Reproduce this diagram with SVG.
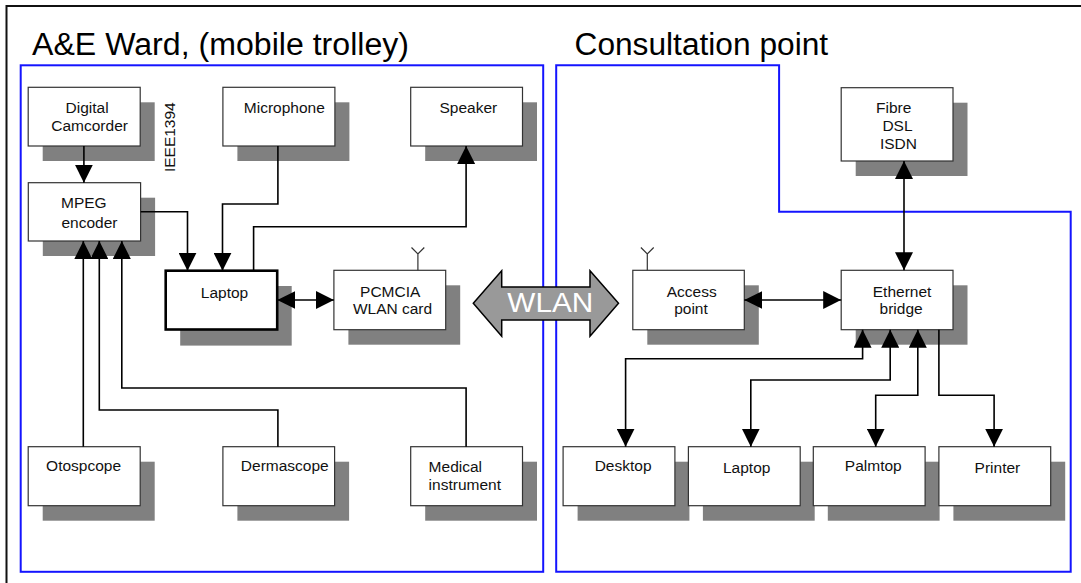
<svg xmlns="http://www.w3.org/2000/svg" width="1081" height="583" viewBox="0 0 1081 583">
<defs>
<marker id="ah" markerUnits="userSpaceOnUse" markerWidth="18" markerHeight="18" refX="18" refY="9" orient="auto-start-reverse" viewBox="0 0 18 18">
<path d="M0,0 L18,9 L0,18 z" fill="#000"/>
</marker>
<style>
.sh{fill:#808080;stroke:none}
.bx{fill:#fff;stroke:#333;stroke-width:1.2}
.bold{fill:#fff;stroke:#000;stroke-width:2.6}
.t{font-family:"Liberation Sans",Arial,sans-serif;font-size:15.5px;fill:#111;text-anchor:middle}
.tl{font-family:"Liberation Sans",Arial,sans-serif;font-size:15.5px;fill:#111}
.title{font-family:"Liberation Sans",Arial,sans-serif;font-size:31px;fill:#000}
.c{fill:none;stroke:#000;stroke-width:1.6}
.b{marker-start:url(#ah);marker-end:url(#ah)}
.e{marker-end:url(#ah)}
.zone{fill:none;stroke:#1414ff;stroke-width:2}
.ant{fill:none;stroke:#333;stroke-width:1.2}
</style>
</defs>
<rect width="1081" height="583" fill="#fff"/>
<rect x="6.5" y="6" width="1100" height="600" fill="none" stroke="#111" stroke-width="2"/>
<g id="zones">
<rect class="zone" x="20.7" y="65.3" width="522.5" height="506.5"/>
<polygon class="zone" points="556.2,65.3 779.1,65.3 779.1,211.7 1070.7,211.7 1070.7,571.8 556.2,571.8"/>
<text class="title" x="32" y="55" textLength="377" lengthAdjust="spacingAndGlyphs">A&amp;E Ward, (mobile trolley)</text>
<text class="title" x="574.5" y="55" textLength="253.6" lengthAdjust="spacingAndGlyphs">Consultation point</text>
</g>
<g id="camcorder"><rect class="sh" x="42.7" y="102.3" width="112" height="58.7"/><rect class="bx" x="28.2" y="87.3" width="112" height="58.7"/><text class="t" x="87.1" y="113.3">Digital</text><text class="t" x="89.6" y="131">Camcorder</text></g>
<g id="ieee"><text class="t" transform="translate(175,137.2) rotate(-90)">IEEE1394</text></g>
<g id="microphone"><rect class="sh" x="237.4" y="102.3" width="112" height="58.7"/><rect class="bx" x="222.9" y="87.3" width="112" height="58.7"/><text class="t" x="284.3" y="113.3">Microphone</text></g>
<g id="speaker"><rect class="sh" x="425.2" y="102.3" width="111.8" height="58.7"/><rect class="bx" x="410.7" y="87.3" width="111.8" height="58.7"/><text class="t" x="468.4" y="113.3">Speaker</text></g>
<g id="mpeg"><rect class="sh" x="42.8" y="197.7" width="112.3" height="58.3"/><rect class="bx" x="28.3" y="182.7" width="112.3" height="58.3"/><text class="t" x="83.8" y="207.7">MPEG</text><text class="t" x="89.5" y="227.7">encoder</text></g>
<g id="laptop1"><rect class="sh" x="180.2" y="286" width="111.5" height="59.6"/><rect class="bold" x="165.7" y="270.7" width="111.5" height="58.8"/><text class="t" x="224.5" y="298">Laptop</text></g>
<g id="pcmcia"><rect class="sh" x="348.4" y="285.3" width="111.8" height="59.4"/><rect class="bx" x="333.9" y="270.3" width="111.8" height="59.4"/><path class="ant" d="M417.9,270.3 V254 M411.5,247.5 L417.9,254 L424.3,247.5"/><text class="t" x="390.2" y="296.7">PCMCIA</text><text class="t" x="392.5" y="314">WLAN card</text></g>
<g id="otoscope"><rect class="sh" x="42.7" y="461.7" width="112" height="59"/><rect class="bx" x="28.2" y="446.7" width="112" height="59"/><text class="t" x="83.6" y="471">Otospcope</text></g>
<g id="dermascope"><rect class="sh" x="237.4" y="461.7" width="111.7" height="59"/><rect class="bx" x="222.9" y="446.7" width="111.7" height="59"/><text class="t" x="284.8" y="471">Dermascope</text></g>
<g id="medical"><rect class="sh" x="425.2" y="461.7" width="111.8" height="59"/><rect class="bx" x="410.7" y="446.7" width="111.8" height="59"/><text class="tl" x="428.6" y="472">Medical</text><text class="tl" x="428.6" y="490">instrument</text></g>
<g id="fibre"><rect class="sh" x="855.7" y="102.7" width="111.8" height="73.3"/><rect class="bx" x="841.2" y="87.7" width="111.8" height="73.3"/><text class="t" x="893.7" y="113.3">Fibre</text><text class="t" x="897.5" y="131">DSL</text><text class="t" x="898.4" y="148.7">ISDN</text></g>
<g id="access"><rect class="sh" x="647.3" y="285.3" width="111.5" height="59.4"/><rect class="bx" x="632.8" y="270.3" width="111.5" height="59.4"/><path class="ant" d="M647.3,270.3 V254 M640.9,247.5 L647.3,254 L653.7,247.5"/><text class="t" x="691.7" y="296.7">Access</text><text class="t" x="691" y="314">point</text></g>
<g id="ethernet"><rect class="sh" x="855.7" y="285.3" width="111.8" height="59.4"/><rect class="bx" x="841.2" y="270.3" width="111.8" height="59.4"/><text class="t" x="902.1" y="296.7">Ethernet</text><text class="t" x="901.1" y="314">bridge</text></g>
<g id="desktop"><rect class="sh" x="577.6" y="461.7" width="111.8" height="59"/><rect class="bx" x="563.1" y="446.7" width="111.8" height="59"/><text class="t" x="623.1" y="471">Desktop</text></g>
<g id="laptop2"><rect class="sh" x="702.9" y="461.7" width="111.8" height="59"/><rect class="bx" x="688.4" y="446.7" width="111.8" height="59"/><text class="t" x="746.7" y="473">Laptop</text></g>
<g id="palmtop"><rect class="sh" x="827.8" y="461.7" width="111.8" height="59"/><rect class="bx" x="813.3" y="446.7" width="111.8" height="59"/><text class="t" x="873.3" y="471">Palmtop</text></g>
<g id="printer"><rect class="sh" x="953.4" y="461.7" width="111.8" height="59"/><rect class="bx" x="938.9" y="446.7" width="111.8" height="59"/><text class="t" x="997.4" y="473">Printer</text></g>
<g id="connectors">
<path class="c e" d="M83.9,146 V182.7"/>
<path class="c e" d="M140.7,211.7 H187.5 V270.7"/>
<path class="c e" d="M277.9,146 V204 H222.5 V270.7"/>
<path class="c e" d="M253.6,270.7 V226.7 H466.1 V146"/>
<path class="c b" d="M277.3,300 H333.9"/>
<path class="c e" d="M83.3,446.7 V241"/>
<path class="c e" d="M277.9,446.7 V410 H99.3 V241"/>
<path class="c e" d="M466.1,446.7 V388 H121.8 V241"/>
<path class="c b" d="M904,161 V270.3"/>
<path class="c b" d="M744.3,300 H841.2"/>
<path class="c b" d="M862.6,329.7 V358.7 H625.6 V446.7"/>
<path class="c b" d="M890.2,329.7 V380 H750.8 V446.7"/>
<path class="c b" d="M917.8,329.7 V395.3 H875.7 V446.7"/>
<path class="c e" d="M938.9,329.7 V395.3 H994.1 V446.7"/>
</g>
<g id="wlan">
<polygon points="473.3,303.3 501.7,270.7 501.7,287 590,287 590,270.7 618.5,303.3 590,336.3 590,320 501.7,320 501.7,336.3" fill="#999" stroke="#000" stroke-width="1.5"/>
<text x="550.3" y="312.3" font-family="Liberation Sans, Arial, sans-serif" font-size="28" fill="#fff" text-anchor="middle" textLength="86" lengthAdjust="spacingAndGlyphs">WLAN</text>
</g>
</svg>
